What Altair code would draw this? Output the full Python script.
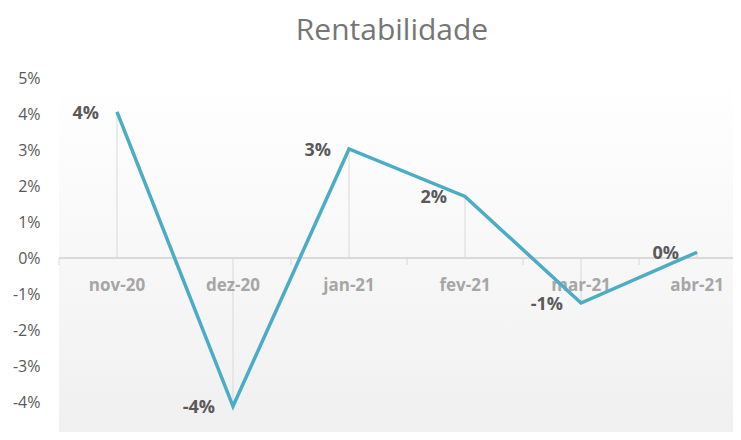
import altair as alt
import pandas as pd

months = ["nov-20", "dez-20", "jan-21", "fev-21", "mar-21", "abr-21"]
returns = [0.0406, -0.0412, 0.0303, 0.0171, -0.0125, 0.0016]
y_ticks = [0.05, 0.04, 0.03, 0.02, 0.01, 0.0, -0.01, -0.02, -0.03, -0.04, -0.05]
boundaries = [-0.5, 0.5, 1.5, 2.5, 3.5, 4.5]

df = pd.DataFrame({"idx": list(range(len(months))), "month": months, "ret": returns})
bdf = pd.DataFrame({"b": boundaries, "zero": [0.0] * len(boundaries)})

FONT = "Open Sans"
xs = alt.Scale(domain=[-0.5, 5.31], nice=False, zero=False)
ys = alt.Scale(domain=[-0.04833, 0.05], nice=False, zero=False)
yax = alt.Axis(values=y_ticks, tickCount=40, format=".0%", domain=False, ticks=False, grid=False,
               labelFont=FONT, labelFontSize=16, labelColor="#595959",
               labelPadding=19, labelOverlap=False, labelBound=False, labelFlush=False,
               labelExpr="replace(datum.label, '\u2212', '-')")

def X(f):
    return alt.X(f, scale=xs, axis=None)

def Y(f):
    return alt.Y(f, scale=ys, axis=yax, title=None)

base = alt.Chart(df)

bg = base.mark_rect(
    color=alt.LinearGradient(
        gradient="linear",
        stops=[alt.GradientStop(color="#ffffff", offset=0),
               alt.GradientStop(color="#f0f0f0", offset=1)],
        x1=0, x2=0, y1=0, y2=1,
    )
).encode(x=alt.value(0), x2=alt.value("width"), y=alt.value(0), y2=alt.value("height"))

zero_line = alt.Chart(bdf).mark_rule(color="#d9d9d9", strokeWidth=1.5).encode(
    x=alt.value(0), x2=alt.value("width"), y=Y("zero:Q")
)

ticks = alt.Chart(bdf).mark_tick(color="#d9d9d9", thickness=1.5, size=7, orient="vertical", yOffset=3.5).encode(
    x=X("b:Q"), y=Y("zero:Q")
)

drops = base.mark_rule(color="#d9d9d9", strokeWidth=1).encode(
    x=X("idx:Q"), y=Y("ret:Q"), y2=alt.datum(0)
)

line = base.mark_line(color="#4BACC6", strokeWidth=3.5, strokeJoin="miter").encode(
    x=X("idx:Q"), y=Y("ret:Q")
)

cat_labels = base.mark_text(font=FONT, fontSize=17, fontWeight="bold", color="#a6a6a6",
                            baseline="middle", dy=28).encode(
    x=X("idx:Q"), y=alt.datum(0), text="month:N"
)

val_labels = base.transform_calculate(
    lbl="replace(format(datum.ret, '.0%'), '\u2212', '-')"
).mark_text(font=FONT, fontSize=18, fontWeight="bold", color="#595959",
            align="right", baseline="middle", dx=-18, dy=2).encode(
    x=X("idx:Q"), y=Y("ret:Q"),
    text="lbl:N"
)

chart = alt.layer(bg, zero_line, ticks, drops, cat_labels, line, val_labels).properties(
    width=674, height=354,
    title=alt.Title("Rentabilidade", font=FONT, fontSize=30, fontWeight="normal",
                    color="#767676", offset=24, dx=-4),
    autosize=alt.AutoSizeParams(type="none"),
    padding={"left": 51, "top": 70, "right": 0, "bottom": 0},
).configure_view(stroke=None).configure_axis(labelOverlap=False).configure(background="white")

chart.save("out.html", embed_options={"renderer": "svg", "actions": False})
